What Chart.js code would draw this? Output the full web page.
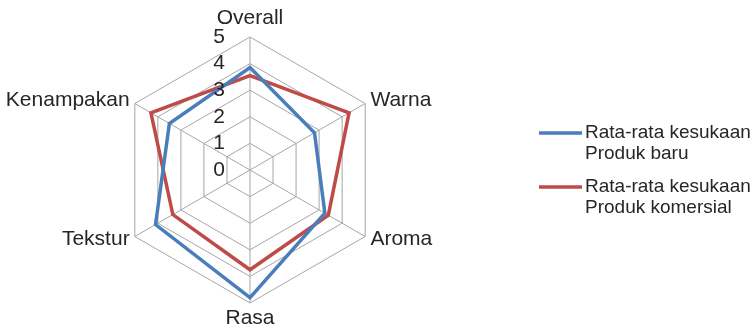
<!DOCTYPE html>
<html>
<head>
<meta charset="utf-8">
<script src="https://cdn.jsdelivr.net/npm/chart.js@4/dist/chart.umd.min.js"></script>
<style>
  html, body { margin: 0; padding: 0; background: #fff; }
  #wrap { width: 752px; height: 330px; }
</style>
</head>
<body>
<div id="wrap"><canvas id="radarChart" width="752" height="330"></canvas></div>
<script>
const categories = ['Overall', 'Warna', 'Aroma', 'Rasa', 'Tekstur', 'Kenampakan'];
const produkBaru = [3.85, 2.8, 3.25, 4.8, 4.1, 3.5];
const produkKomersial = [3.55, 4.3, 3.4, 3.75, 3.35, 4.3];
const seriesNames = [
    ['Rata-rata kesukaan', 'Produk baru'],
    ['Rata-rata kesukaan', 'Produk komersial']
];
const tickValues = [0, 1, 2, 3, 4, 5];

const FONT = '"Liberation Sans", Arial, sans-serif';
const TEXT = '#262626';

// label sumbu, angka skala dan legenda digambar sendiri (gaya Excel)
const excelText = {
    id: 'excelText',
    afterDraw(chart) {
        const ctx = chart.ctx;
        const r = chart.scales.r;
        ctx.save();
        ctx.fillStyle = TEXT;
        ctx.font = '21px ' + FONT;

        // nilai skala, rata kanan di kiri sumbu tegak
        ctx.textAlign = 'right';
        ctx.textBaseline = 'middle';
        tickValues.forEach(v => {
            const d = r.getDistanceFromCenterForValue(v);
            ctx.fillText(String(v), r.xCenter - 25, r.yCenter - d);
        });

        // nama kategori
        categories.forEach((name, i) => {
            const p = r.getPointPosition(i, r.drawingArea + 6);
            const dx = p.x - r.xCenter;
            if (Math.abs(dx) < 2) {
                ctx.textAlign = 'center';
                const top = p.y < r.yCenter;
                ctx.fillText(name, p.x, top ? p.y - 13 : p.y + 9);
            } else {
                ctx.textAlign = dx > 0 ? 'left' : 'right';
                ctx.fillText(name, p.x, p.y);
            }
        });

        // legenda
        ctx.font = '19px ' + FONT;
        ctx.textAlign = 'left';
        chart.data.datasets.forEach((ds, i) => {
            const y = 133 + i * 54;
            ctx.strokeStyle = ds.borderColor;
            ctx.lineWidth = 3.5;
            ctx.beginPath();
            ctx.moveTo(539, y);
            ctx.lineTo(582, y);
            ctx.stroke();
            seriesNames[i].forEach((line, k) => {
                ctx.fillText(line, 585, y + k * 21);
            });
        });
        ctx.restore();
    }
};

new Chart(document.getElementById('radarChart'), {
    type: 'radar',
    data: {
        labels: categories,
        datasets: [{
            label: seriesNames[0].join(' '),
            data: produkBaru,
            borderColor: '#4a7ebb',
            borderWidth: 3.5,
            pointRadius: 0,
            fill: false
        }, {
            label: seriesNames[1].join(' '),
            data: produkKomersial,
            borderColor: '#be4b48',
            borderWidth: 3.5,
            pointRadius: 0,
            fill: false
        }]
    },
    options: {
        responsive: false,
        animation: false,
        layout: { padding: { left: 0, right: 252, top: 37, bottom: 27 } },
        plugins: {
            legend: { display: false },
            tooltip: { enabled: false }
        },
        scales: {
            r: {
                min: 0,
                max: 5,
                ticks: { stepSize: 1, display: false },
                grid: { color: '#a6a6a6', lineWidth: 1 },
                angleLines: { color: '#a6a6a6', lineWidth: 1 },
                pointLabels: { display: false }
            }
        }
    },
    plugins: [excelText]
});
</script>
</body>
</html>
